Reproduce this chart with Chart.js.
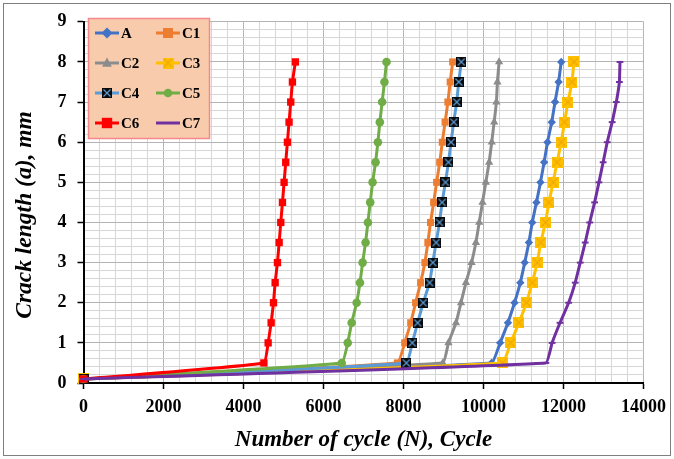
<!DOCTYPE html>
<html>
<head>
<meta charset="utf-8">
<title>Crack length vs number of cycles</title>
<script src="https://cdn.jsdelivr.net/npm/chart.js@4.4.1/dist/chart.umd.min.js"></script>
<style>
  html, body { margin: 0; padding: 0; background: #fff; }
  canvas { display: block; }
</style>
</head>
<body>
<canvas id="chart" width="674" height="459"></canvas>
<script>
// Crack length a (mm) at each recorded step, shared by all specimens
const crackLength = [0.1, 0.5, 1, 1.5, 2, 2.5, 3, 3.5, 4, 4.5, 5, 5.5, 6, 6.5, 7, 7.5, 8];

// Number of cycles N reached at each crack length
const cyclesA  = [0, 10202, 10415, 10612, 10776, 10921, 11030, 11135, 11218, 11324, 11424, 11516, 11599, 11706, 11788, 11878, 11943];
const cyclesC1 = [0, 7848, 8030, 8180, 8303, 8428, 8535, 8609, 8676, 8754, 8829, 8906, 8970, 9040, 9110, 9167, 9230];
const cyclesC2 = [0, 8982, 9123, 9313, 9437, 9561, 9702, 9810, 9893, 9975, 10058, 10141, 10206, 10266, 10323, 10348, 10390];
const cyclesC3 = [0, 10473, 10679, 10887, 11072, 11218, 11342, 11432, 11549, 11636, 11740, 11839, 11942, 12025, 12112, 12212, 12261];
const cyclesC4 = [0, 8071, 8220, 8353, 8493, 8652, 8733, 8816, 8900, 8965, 9049, 9123, 9189, 9255, 9330, 9380, 9445];
const cyclesC5 = [0, 6456, 6606, 6704, 6829, 6912, 6978, 7052, 7110, 7168, 7227, 7302, 7360, 7409, 7466, 7524, 7575];
const cyclesC6 = [0, 4510, 4616, 4691, 4750, 4791, 4849, 4891, 4932, 4974, 5015, 5056, 5098, 5139, 5181, 5223, 5297];
const cyclesC7 = [0, 11559, 11715, 11913, 12129, 12293, 12418, 12542, 12655, 12778, 12886, 12991, 13093, 13217, 13321, 13397, 13412];

const seriesNames = ['A', 'C1', 'C2', 'C3', 'C4', 'C5', 'C6', 'C7'];

// Axis tick labels
const xTickLabels = [0, 2000, 4000, 6000, 8000, 10000, 12000, 14000];
const yTickLabels = [0, 1, 2, 3, 4, 5, 6, 7, 8, 9];

const SERIF = "'Liberation Serif', 'Times New Roman', serif";

// Square marker with a diagonal cross through it
function crossedSquare(size, fill, cross, lw) {
  const c = document.createElement('canvas');
  c.width = size; c.height = size;
  const g = c.getContext('2d');
  g.fillStyle = fill;
  g.fillRect(0, 0, size, size);
  g.strokeStyle = cross;
  g.lineWidth = lw;
  g.beginPath();
  g.moveTo(1.5, 1.5); g.lineTo(size - 1.5, size - 1.5);
  g.moveTo(size - 1.5, 1.5); g.lineTo(1.5, size - 1.5);
  g.stroke();
  return c;
}

const markC3 = crossedSquare(11, '#FFC000', '#F0A800', 1.2);
const markC4 = crossedSquare(10, '#0a0a0a', '#5B9BD5', 1.2);

function toPoints(cycles) {
  return cycles.map((n, i) => ({ x: n, y: crackLength[i] }));
}

const styles = [
  { color: '#4472C4', point: 'rectRot',  radius: 4.2, fill: '#4472C4' },
  { color: '#ED7D31', point: 'rect',     radius: 5,   fill: '#ED7D31' },
  { color: '#8C8C8C', point: 'triangle', radius: 4.8, fill: '#8C8C8C' },
  { color: '#FFC000', point: markC3,     radius: 5.5, fill: '#FFC000' },
  { color: '#5B9BD5', point: markC4,     radius: 5,   fill: '#0a0a0a' },
  { color: '#70AD47', point: 'circle',   radius: 4.3, fill: '#70AD47' },
  { color: '#FF0000', point: 'rect',     radius: 5.2, fill: '#FF0000' },
  { color: '#7030A0', point: 'line',     radius: 3.4, fill: '#7030A0' }
];

const allCycles = [cyclesA, cyclesC1, cyclesC2, cyclesC3, cyclesC4, cyclesC5, cyclesC6, cyclesC7];

const datasets = allCycles.map((cycles, i) => ({
  label: seriesNames[i],
  data: toPoints(cycles),
  borderColor: styles[i].color,
  backgroundColor: styles[i].fill,
  borderWidth: 3,
  pointStyle: styles[i].point,
  pointRadius: styles[i].radius,
  pointHoverRadius: styles[i].radius,
  pointBackgroundColor: styles[i].fill,
  pointBorderColor: styles[i].point === 'line' ? styles[i].color : styles[i].fill,
  pointBorderWidth: styles[i].point === 'line' ? 2 : 0,
  tension: 0.1,
  clip: false,
  // later series are painted over earlier ones
  order: seriesNames.length - i
}));

function isWhole(v, step) {
  const q = v / step;
  return Math.abs(q - Math.round(q)) < 1e-6;
}

// Framed legend box in two columns, inside the plot area
const boxLegend = {
  id: 'boxLegend',
  afterDraw(chart) {
    const ctx = chart.ctx;
    const bx = 88.5, by = 18.5, bw = 121, bh = 120;
    ctx.save();
    ctx.fillStyle = '#F8CBAD';
    ctx.fillRect(bx, by, bw, bh);
    ctx.strokeStyle = '#F4888A';
    ctx.lineWidth = 1.5;
    ctx.strokeRect(bx, by, bw, bh);

    const cols = [{ x0: 95, x1: 119, tx: 121 }, { x0: 156, x1: 180, tx: 182 }];
    const rows = [33, 63, 93, 123];
    ctx.font = 'bold 15px ' + SERIF;
    ctx.textBaseline = 'middle';
    ctx.textAlign = 'left';
    seriesNames.forEach((name, i) => {
      const col = cols[i % 2];
      const y = rows[Math.floor(i / 2)];
      const st = styles[i];
      ctx.strokeStyle = st.color;
      ctx.lineWidth = 3;
      ctx.beginPath();
      ctx.moveTo(col.x0, y);
      ctx.lineTo(col.x1, y);
      ctx.stroke();
      drawMarker(ctx, st, (col.x0 + col.x1) / 2, y);
      ctx.fillStyle = '#000';
      ctx.fillText(name, col.tx, y + 1);
    });
    ctx.restore();
  }
};

function drawMarker(ctx, st, x, y) {
  const r = st.radius;
  ctx.save();
  ctx.fillStyle = st.fill;
  ctx.strokeStyle = st.color;
  if (st.point instanceof HTMLCanvasElement) {
    ctx.drawImage(st.point, x - st.point.width / 2, y - st.point.height / 2);
  } else if (st.point === 'rect') {
    ctx.fillRect(x - r, y - r, 2 * r, 2 * r);
  } else if (st.point === 'rectRot') {
    const d = r * 1.3;
    ctx.beginPath();
    ctx.moveTo(x, y - d); ctx.lineTo(x + d, y); ctx.lineTo(x, y + d); ctx.lineTo(x - d, y);
    ctx.closePath(); ctx.fill();
  } else if (st.point === 'triangle') {
    ctx.beginPath();
    ctx.moveTo(x, y - r * 1.2); ctx.lineTo(x + r, y + r * 0.8); ctx.lineTo(x - r, y + r * 0.8);
    ctx.closePath(); ctx.fill();
  } else if (st.point === 'circle') {
    ctx.beginPath(); ctx.arc(x, y, r, 0, Math.PI * 2); ctx.fill();
  }
  ctx.restore();
}

// Rotated y-axis title and the outer frame of the figure
const decorations = {
  id: 'decorations',
  afterDraw(chart) {
    const ctx = chart.ctx;
    ctx.save();
    ctx.strokeStyle = '#7f7f7f';
    ctx.lineWidth = 1;
    ctx.strokeRect(3.5, 3.5, 667, 452);

    ctx.translate(25, 215);
    ctx.rotate(-Math.PI / 2);
    ctx.font = 'italic bold 23.5px ' + SERIF;
    ctx.fillStyle = '#000';
    ctx.textAlign = 'center';
    ctx.textBaseline = 'middle';
    ctx.fillText('Crack length (a), mm', 0, 0);
    ctx.restore();
  }
};

new Chart(document.getElementById('chart'), {
  type: 'line',
  data: { datasets },
  plugins: [decorations, boxLegend],
  options: {
    responsive: false,
    animation: false,
    devicePixelRatio: 1,
    events: [],
    layout: { padding: { left: 0, right: 27, top: 15, bottom: 0 } },
    plugins: {
      legend: { display: false },
      tooltip: { enabled: false }
    },
    scales: {
      x: {
        type: 'linear',
        min: 0,
        max: 14000,
        afterFit(scale) { scale.height = 76; },
        ticks: {
          stepSize: 400,
          autoSkip: false,
          maxRotation: 0,
          maxTicksLimit: 100,
          padding: 8,
          color: '#000',
          font: { family: SERIF, size: 18, weight: 'bold' },
          callback: (v) => (xTickLabels.includes(v) ? String(v) : '')
        },
        grid: {
          drawTicks: true,
          tickLength: 6,
          lineWidth: 1,
          color: (c) => (isWhole(c.tick.value, 2000) ? '#b4b4b4' : '#d6d6d6'),
          tickColor: (c) => (isWhole(c.tick.value, 2000) ? '#000' : 'rgba(0,0,0,0)'),
          tickWidth: 1.5
        },
        border: { display: true, color: '#000', width: 2 },
        title: {
          display: true,
          text: 'Number of cycle (N), Cycle',
          color: '#000',
          font: { family: SERIF, size: 23, weight: 'bold', style: 'italic' },
          padding: { top: 0, bottom: 5 }
        }
      },
      y: {
        type: 'linear',
        min: 0,
        max: 9,
        afterFit(scale) { scale.width = 83.5; },
        ticks: {
          stepSize: 0.2,
          autoSkip: false,
          maxTicksLimit: 100,
          padding: 11,
          color: '#000',
          font: { family: SERIF, size: 18, weight: 'bold' },
          callback: (v) => {
            const k = Math.round(v);
            return (isWhole(v, 1) && yTickLabels.includes(k)) ? String(k) : '';
          }
        },
        grid: {
          drawTicks: true,
          tickLength: 6,
          lineWidth: 1,
          color: (c) => (isWhole(c.tick.value, 1) ? '#b4b4b4' : '#d6d6d6'),
          tickColor: (c) => (isWhole(c.tick.value, 1) ? '#000' : 'rgba(0,0,0,0)'),
          tickWidth: 1.5
        },
        border: { display: true, color: '#000', width: 2 }
      }
    }
  }
});
</script>
</body>
</html>
